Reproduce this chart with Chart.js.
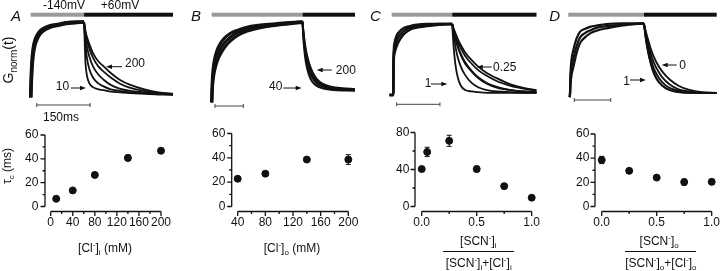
<!DOCTYPE html>
<html>
<head>
<meta charset="utf-8">
<script src="https://cdn.jsdelivr.net/npm/chart.js@4.4.1/dist/chart.umd.min.js"></script>
<style>
	body { margin: 0; background: #fff; }
	#fig { position: relative; width: 720px; height: 271px; overflow: hidden; font-family: "Liberation Sans", Arial, sans-serif; color: #111; }
	#fig canvas { position: absolute; }
	.lbl { position: absolute; transform: translate(-50%, -50%); font-size: 12px; line-height: 1; white-space: nowrap; }
	.lbl sub, .lbl sup { font-size: 8px; line-height: 0; }
	.panel { font-size: 15px; font-style: italic; }
	.big { font-size: 14px; }
	.big sub { font-size: 10px; }
	.rot { transform: translate(-50%, -50%) rotate(-90deg); }
	.frac { position: absolute; height: 0; border-top: 1.3px solid #111; }
</style>
</head>
<body>
<div id="fig"></div>
<script>

// ---- traces (normalised conductance, time in ms) ----

// A: [Cl-]i series
const tRiseA = [0, 1, 3, 7, 12, 17, 25, 35, 55, 80, 100, 125, 150];
const gRiseA1 = [-0.02, 0.15, 0.42, 0.64, 0.75, 0.81, 0.87, 0.91, 0.95, 0.97, 0.99, 1.0, 1.0];
const gRiseA2 = [-0.02, 0.1, 0.33, 0.56, 0.69, 0.76, 0.83, 0.88, 0.93, 0.96, 0.98, 0.99, 1.0];
const tDecayA = [0, 4, 8, 15, 25, 40, 55, 75, 100, 130, 170, 210, 250];
const gA200 = [1.0, 0.88, 0.8, 0.7, 0.58, 0.47, 0.4, 0.31, 0.22, 0.15, 0.09, 0.05, 0.03];
const gA140 = [1.0, 0.85, 0.76, 0.64, 0.52, 0.4, 0.33, 0.25, 0.17, 0.11, 0.07, 0.04, 0.03];
const gA80 = [1.0, 0.8, 0.67, 0.53, 0.4, 0.29, 0.22, 0.15, 0.1, 0.07, 0.05, 0.03, 0.02];
const gA40 = [1.0, 0.7, 0.52, 0.36, 0.25, 0.17, 0.13, 0.09, 0.07, 0.05, 0.04, 0.03, 0.02];
const gA10 = [1.0, 0.45, 0.28, 0.17, 0.12, 0.09, 0.08, 0.06, 0.05, 0.04, 0.03, 0.02, 0.02];

// B: [Cl-]o series
const tRiseB = [0, 2, 5, 10, 18, 30, 45, 65, 90, 125, 180, 240, 320];
const gRiseB1 = [-0.03, 0.25, 0.4, 0.52, 0.63, 0.72, 0.79, 0.85, 0.89, 0.93, 0.96, 0.98, 1.0];
const gRiseB2 = [-0.03, 0.18, 0.32, 0.44, 0.55, 0.65, 0.73, 0.8, 0.86, 0.9, 0.95, 0.97, 1.0];
const gRiseB3 = [-0.03, 0.12, 0.25, 0.37, 0.48, 0.58, 0.67, 0.75, 0.82, 0.88, 0.93, 0.96, 0.99];
const tDecayB = [0, 3, 7, 12, 18, 25, 35, 50, 70, 100, 140, 185];
const gB200 = [1.0, 0.88, 0.76, 0.64, 0.54, 0.45, 0.36, 0.27, 0.21, 0.17, 0.15, 0.14];
const gB140 = [1.0, 0.86, 0.72, 0.59, 0.49, 0.4, 0.32, 0.24, 0.19, 0.16, 0.14, 0.13];
const gB80 = [1.0, 0.84, 0.68, 0.54, 0.44, 0.36, 0.28, 0.21, 0.17, 0.14, 0.13, 0.12];
const gB40 = [1.0, 0.8, 0.62, 0.48, 0.38, 0.3, 0.23, 0.18, 0.15, 0.13, 0.12, 0.12];

// C: SCN- fraction inside
const tRiseC = [-5, 3.5, 4.5, 7, 11, 16, 27, 42, 58, 81, 110, 140];
const gRiseC1 = [0, 0, 0.55, 0.74, 0.83, 0.88, 0.94, 0.97, 0.99, 1.0, 1.0, 1.0];
const gRiseC2 = [0, 0, 0.5, 0.67, 0.76, 0.82, 0.9, 0.95, 0.97, 0.99, 1.0, 1.0];
const gRiseC3 = [0, 0, 0.45, 0.6, 0.68, 0.75, 0.85, 0.92, 0.95, 0.97, 0.99, 1.0];
const tDecayC = [0, 3, 7, 12, 20, 30, 45, 60, 80, 105, 135, 165, 195];
const gC025 = [1.0, 0.94, 0.88, 0.8, 0.7, 0.6, 0.49, 0.4, 0.31, 0.23, 0.15, 0.1, 0.07];
const gC005 = [1.0, 0.93, 0.86, 0.77, 0.66, 0.55, 0.44, 0.35, 0.27, 0.19, 0.13, 0.09, 0.06];
const gC000 = [1.0, 0.91, 0.82, 0.71, 0.58, 0.46, 0.34, 0.25, 0.17, 0.11, 0.07, 0.05, 0.04];
const gC050 = [1.0, 0.9, 0.8, 0.69, 0.56, 0.44, 0.33, 0.24, 0.16, 0.1, 0.07, 0.05, 0.04];
const gC075 = [1.0, 0.85, 0.7, 0.55, 0.4, 0.28, 0.17, 0.11, 0.07, 0.05, 0.04, 0.03, 0.03];
const gC100 = [1.0, 0.7, 0.45, 0.27, 0.13, 0.07, 0.05, 0.04, 0.03, 0.03, 0.03, 0.03, 0.03];

// D: SCN- fraction outside
const tRiseD = [3, 4.5, 6, 9, 14, 22, 32, 45, 60, 80, 105, 150, 208];
const gRiseD1 = [-0.03, 0, 0.3, 0.5, 0.63, 0.78, 0.88, 0.92, 0.95, 0.97, 0.99, 1.0, 1.0];
const gRiseD2 = [-0.03, 0, 0.22, 0.39, 0.51, 0.67, 0.8, 0.86, 0.9, 0.94, 0.96, 0.98, 1.0];
const gRiseD3 = [-0.03, 0, 0.15, 0.28, 0.39, 0.57, 0.72, 0.8, 0.86, 0.9, 0.93, 0.97, 1.0];
const tDecayD = [0, 3, 7, 12, 18, 25, 35, 50, 70, 95, 125, 160, 200];
const gD000 = [1.0, 0.93, 0.85, 0.76, 0.66, 0.56, 0.45, 0.33, 0.22, 0.13, 0.07, 0.04, 0.03];
const gD025 = [1.0, 0.91, 0.81, 0.7, 0.59, 0.48, 0.37, 0.25, 0.15, 0.08, 0.05, 0.03, 0.03];
const gD050 = [1.0, 0.89, 0.77, 0.64, 0.52, 0.4, 0.29, 0.18, 0.1, 0.06, 0.04, 0.03, 0.03];
const gD075 = [1.0, 0.87, 0.73, 0.59, 0.46, 0.34, 0.23, 0.13, 0.07, 0.04, 0.03, 0.03, 0.03];
const gD100 = [1.0, 0.86, 0.72, 0.58, 0.45, 0.33, 0.22, 0.13, 0.07, 0.04, 0.03, 0.03, 0.03];

// ---- time constants (ms) ----
const clIn = [10, 40, 80, 140, 200];
const tauClIn = [6.5, 13.5, 26.5, 40.8, 46.8];
const tauClInErr = [0.8, 1, 1.5, 2.5, 2];

const clOut = [40, 80, 140, 200];
const tauClOut = [22.8, 27, 38.6, 38.6];
const tauClOutErr = [1, 1.5, 1.5, 4];

const scnInFrac = [0, 0.05, 0.25, 0.5, 0.75, 1];
const tauScnIn = [40.5, 59, 71, 40.5, 22, 9.5];
const tauScnInErr = [2, 5, 6, 3, 1.5, 1];

const scnOutFrac = [0, 0.25, 0.5, 0.75, 1];
const tauScnOut = [38.5, 29.5, 23.9, 20.2, 20.4];
const tauScnOutErr = [3, 1.5, 1.5, 2.5, 2];


const fig = document.getElementById('fig');
const tickFont = {family: '"Liberation Sans", Arial, sans-serif', size: 12};


function makeCanvas(left, top, w, h) {
	const c = document.createElement('canvas');
	c.width = w; c.height = h;
	c.style.left = left + 'px'; c.style.top = top + 'px';
	c.style.width = w + 'px'; c.style.height = h + 'px';
	fig.appendChild(c);
	return c;
}


function series(t, g, offset, width) {
	return {
		data: t.map((v, i) => ({x: v + offset, y: g[i]})),
		borderColor: '#111', borderWidth: width, pointRadius: 0,
		cubicInterpolationMode: 'monotone', clip: false
	};
}


function arrow(ctx, x1, y1, x2, y2) {
	const a = Math.atan2(y2 - y1, x2 - x1);
	ctx.beginPath();
	ctx.moveTo(x1, y1);
	ctx.lineTo(x2 - 5 * Math.cos(a), y2 - 5 * Math.sin(a));
	ctx.stroke();
	ctx.beginPath();
	ctx.moveTo(x2, y2);
	ctx.lineTo(x2 - 6 * Math.cos(a) + 2.3 * Math.sin(a), y2 - 6 * Math.sin(a) - 2.3 * Math.cos(a));
	ctx.lineTo(x2 - 6 * Math.cos(a) - 2.3 * Math.sin(a), y2 - 6 * Math.sin(a) + 2.3 * Math.cos(a));
	ctx.closePath();
	ctx.fill();
}


function traceChart(p) {
	const canvas = makeCanvas(p.left, 0, 180, 125);

	const protocol = {
		id: 'protocol',
		afterDraw(chart) {
			const ctx = chart.ctx, xs = chart.scales.x, ys = chart.scales.y;
			const x0 = xs.getPixelForValue(0), xs1 = xs.getPixelForValue(p.step), xe = xs.getPixelForValue(p.end);
			ctx.save();
			ctx.fillStyle = '#9a9a9a';
			ctx.fillRect(x0, 12.7, xs1 - x0, 4);
			ctx.fillStyle = '#111';
			ctx.fillRect(xs1, 12.7, xe - xs1, 4);

			// time scale bar
			const b0 = xs.getPixelForValue(p.bar[0]), b1 = xs.getPixelForValue(p.bar[1]);
			ctx.strokeStyle = '#444';
			ctx.lineWidth = 1;
			ctx.beginPath();
			ctx.moveTo(b0, p.barY); ctx.lineTo(b1, p.barY);
			ctx.moveTo(b0, p.barY - 2); ctx.lineTo(b0, p.barY + 2);
			ctx.moveTo(b1, p.barY - 2); ctx.lineTo(b1, p.barY + 2);
			ctx.stroke();

			ctx.strokeStyle = '#111';
			ctx.fillStyle = '#111';
			p.arrows.forEach(a => {
				arrow(ctx, xs.getPixelForValue(a[0]), ys.getPixelForValue(a[1]),
					xs.getPixelForValue(a[2]), ys.getPixelForValue(a[3]));
			});
			ctx.restore();
		}
	};

	new Chart(canvas, {
		type: 'line',
		data: {datasets: p.datasets},
		options: {
			animation: false, responsive: false, events: [],
			layout: {padding: {left: p.x0 - p.left, right: p.left + 180 - p.x1, top: p.yTop, bottom: 125 - p.yBase}},
			plugins: {legend: {display: false}, tooltip: {enabled: false}},
			scales: {
				x: {type: 'linear', display: false, min: 0, max: p.end},
				y: {type: 'linear', display: false, min: 0, max: 1}
			}
		},
		plugins: [protocol]
	});
}


function scatterChart(p) {
	const canvas = makeCanvas(p.left, 125, 180, 146);

	const axes = {
		id: 'axes',
		afterDatasetsDraw(chart) {
			const ctx = chart.ctx, xs = chart.scales.x, ys = chart.scales.y;
			const ax = chart.chartArea.left - p.gap;
			const ay = chart.chartArea.bottom + 5;
			ctx.save();
			ctx.strokeStyle = '#111';
			ctx.lineWidth = 1.3;
			ctx.beginPath();
			ctx.moveTo(ax, ys.getPixelForValue(ys.min)); ctx.lineTo(ax, ys.getPixelForValue(ys.max));
			ctx.moveTo(xs.getPixelForValue(xs.min), ay); ctx.lineTo(xs.getPixelForValue(xs.max), ay);

			ys.ticks.forEach((t, i) => {
				const py = ys.getPixelForValue(t.value);
				ctx.moveTo(ax, py); ctx.lineTo(ax - 4.5, py);
				if(i > 0) {
					const pm = ys.getPixelForValue((t.value + ys.ticks[i - 1].value) / 2);
					ctx.moveTo(ax, pm); ctx.lineTo(ax - 2.5, pm);
				}
			});
			xs.ticks.forEach((t, i) => {
				const px = xs.getPixelForValue(t.value);
				ctx.moveTo(px, ay); ctx.lineTo(px, ay + 4.5);
				if(i > 0) {
					const pm = xs.getPixelForValue((t.value + xs.ticks[i - 1].value) / 2);
					ctx.moveTo(pm, ay); ctx.lineTo(pm, ay + 2.5);
				}
			});
			ctx.stroke();

			// error bars
			ctx.lineWidth = 1;
			ctx.beginPath();
			p.x.forEach((v, i) => {
				const px = xs.getPixelForValue(v);
				const lo = ys.getPixelForValue(p.y[i] - p.err[i]), hi = ys.getPixelForValue(p.y[i] + p.err[i]);
				ctx.moveTo(px, lo); ctx.lineTo(px, hi);
				ctx.moveTo(px - 2.5, lo); ctx.lineTo(px + 2.5, lo);
				ctx.moveTo(px - 2.5, hi); ctx.lineTo(px + 2.5, hi);
			});
			ctx.stroke();
			ctx.restore();
		}
	};

	// the scales take the whole margin so their labels are not clipped away
	const left = p.area[0] - p.left, bottom = 271 - p.area[3];
	const noPad = s => { s.paddingLeft = s.paddingRight = s.paddingTop = s.paddingBottom = 0; };

	new Chart(canvas, {
		type: 'scatter',
		data: {datasets: [{
			data: p.x.map((v, i) => ({x: v, y: p.y[i]})),
			backgroundColor: '#111', borderColor: '#111', pointRadius: 3.5, clip: false
		}]},
		options: {
			animation: false, responsive: false, events: [],
			layout: {padding: {left: 0, right: p.left + 180 - p.area[1], top: p.area[2] - 125, bottom: 0}},
			plugins: {legend: {display: false}, tooltip: {enabled: false}},
			scales: {
				x: {
					type: 'linear', min: p.xMin, max: p.xMax,
					border: {display: false}, grid: {display: false, drawTicks: false},
					ticks: {stepSize: p.xStep, padding: 9, color: '#111', font: tickFont, maxRotation: 0, autoSkip: false, callback: p.xFmt},
					afterFit: s => { s.height = bottom; noPad(s); }
				},
				y: {
					type: 'linear', min: 0, max: p.yMax,
					border: {display: false}, grid: {display: false, drawTicks: false},
					ticks: {stepSize: p.yStep, padding: 12.4, color: '#111', font: tickFont},
					afterFit: s => { s.width = left; noPad(s); }
				}
			}
		},
		plugins: [axes]
	});
}


traceChart({
	left: 0, x0: 30.7, x1: 173, yTop: 22, yBase: 96, step: 150, end: 400,
	bar: [17, 167], barY: 105,
	arrows: [[256.6, 0.396, 211.6, 0.396], [113.3, 0.108, 155.4, 0.108]],
	datasets: [
		series(tRiseA, gRiseA1, 0, 3.5), series(tRiseA, gRiseA2, 0, 3.5),
		series(tDecayA, gA200, 150, 1.8), series(tDecayA, gA140, 150, 1.8), series(tDecayA, gA80, 150, 1.8),
		series(tDecayA, gA40, 150, 1.8), series(tDecayA, gA10, 150, 1.8)
	]
});

traceChart({
	left: 180, x0: 211.7, x1: 355, yTop: 21.7, yBase: 100, step: 320, end: 505,
	bar: [11.6, 111.6], barY: 106,
	arrows: [[422.8, 0.383, 370, 0.383], [252.3, 0.153, 317.1, 0.153]],
	datasets: [
		series(tRiseB, gRiseB1, 0, 3), series(tRiseB, gRiseB2, 0, 3), series(tRiseB, gRiseB3, 0, 3),
		series(tDecayB, gB200, 320, 2), series(tDecayB, gB140, 320, 2),
		series(tDecayB, gB80, 320, 2), series(tDecayB, gB40, 320, 2)
	]
});

traceChart({
	left: 360, x0: 391.7, x1: 536.5, yTop: 24, yBase: 95, step: 140, end: 335,
	bar: [11.6, 111.6], barY: 104.3,
	arrows: [[231.4, 0.394, 196.7, 0.394], [90.9, 0.155, 128.6, 0.155]],
	datasets: [
		series(tRiseC, gRiseC1, 0, 2.5), series(tRiseC, gRiseC2, 0, 2.5), series(tRiseC, gRiseC3, 0, 2.5),
		series(tDecayC, gC025, 140, 1.8), series(tDecayC, gC005, 140, 1.8), series(tDecayC, gC000, 140, 1.8),
		series(tDecayC, gC050, 140, 1.8), series(tDecayC, gC075, 140, 1.8), series(tDecayC, gC100, 140, 1.8)
	]
});

traceChart({
	left: 540, x0: 568.3, x1: 716.7, yTop: 23.3, yBase: 95, step: 208, end: 408,
	bar: [16.5, 116.6], barY: 100,
	arrows: [[298, 0.418, 256.8, 0.418], [169.6, 0.209, 213.6, 0.209]],
	datasets: [
		series(tRiseD, gRiseD1, 0, 2.2), series(tRiseD, gRiseD2, 0, 2.2), series(tRiseD, gRiseD3, 0, 2.2),
		series(tDecayD, gD000, 208, 1.8), series(tDecayD, gD025, 208, 1.8), series(tDecayD, gD050, 208, 1.8),
		series(tDecayD, gD075, 208, 1.8), series(tDecayD, gD100, 208, 1.8)
	]
});


const fmt1 = v => v.toFixed(1);

scatterChart({left: 0, area: [50.7, 161, 135, 206.5], gap: 5.7, x: clIn, y: tauClIn, err: tauClInErr,
	xMin: 0, xMax: 200, xStep: 40, yMax: 60, yStep: 20});
scatterChart({left: 180, area: [237.7, 348.3, 133.5, 206.5], gap: 6, x: clOut, y: tauClOut, err: tauClOutErr,
	xMin: 40, xMax: 200, xStep: 40, yMax: 60, yStep: 20});
scatterChart({left: 360, area: [421.7, 531.7, 132.5, 206.5], gap: 6.7, x: scnInFrac, y: tauScnIn, err: tauScnInErr,
	xMin: 0, xMax: 1, xStep: 0.5, yMax: 80, yStep: 40, xFmt: fmt1});
scatterChart({left: 540, area: [601.7, 711.7, 134, 206.5], gap: 6.7, x: scnOutFrac, y: tauScnOut, err: tauScnOutErr,
	xMin: 0, xMax: 1, xStep: 0.5, yMax: 60, yStep: 20, xFmt: fmt1});


// text labels (html so sub/superscripts stay real text)
const labels = [
	['A', 16, 14.5, 'panel'], ['B', 196, 14.5, 'panel'], ['C', 375.5, 14.5, 'panel'], ['D', 554.7, 14.5, 'panel'],
	['-140mV', 64, 4.5], ['+60mV', 120, 4.5],
	['150ms', 61, 116.7],
	['200', 135, 63.3], ['10', 62.5, 85.8],
	['200', 345.8, 70], ['40', 275.8, 86],
	['0.25', 504.7, 66.7], ['1', 428, 83],
	['0', 682.7, 65.3], ['1', 626.7, 80.5],
	['G<sub>norm</sub>(t)', 8, 60, 'rot big'],
	['&tau;<sub>c</sub> (ms)', 7, 166, 'rot'],
	['[Cl<sup>-</sup>]<sub>i</sub> (mM)', 105, 248],
	['[Cl<sup>-</sup>]<sub>o</sub> (mM)', 292, 248],
	['[SCN<sup>-</sup>]<sub>i</sub>', 478.3, 240.5],
	['[SCN<sup>-</sup>]<sub>i</sub>+[Cl<sup>-</sup>]<sub>i</sub>', 478.7, 262.5],
	['[SCN<sup>-</sup>]<sub>o</sub>', 659.2, 240.5],
	['[SCN<sup>-</sup>]<sub>o</sub>+[Cl<sup>-</sup>]<sub>o</sub>', 660.8, 262.5]
];

labels.forEach(l => {
	const d = document.createElement('div');
	d.className = 'lbl ' + (l[3] || '');
	d.innerHTML = l[0];
	d.style.left = l[1] + 'px';
	d.style.top = l[2] + 'px';
	fig.appendChild(d);
});

[[442.7, 514.3], [625, 696]].forEach(f => {
	const d = document.createElement('div');
	d.className = 'frac';
	d.style.left = f[0] + 'px';
	d.style.width = (f[1] - f[0]) + 'px';
	d.style.top = '250.5px';
	fig.appendChild(d);
});

</script>
</body>
</html>
